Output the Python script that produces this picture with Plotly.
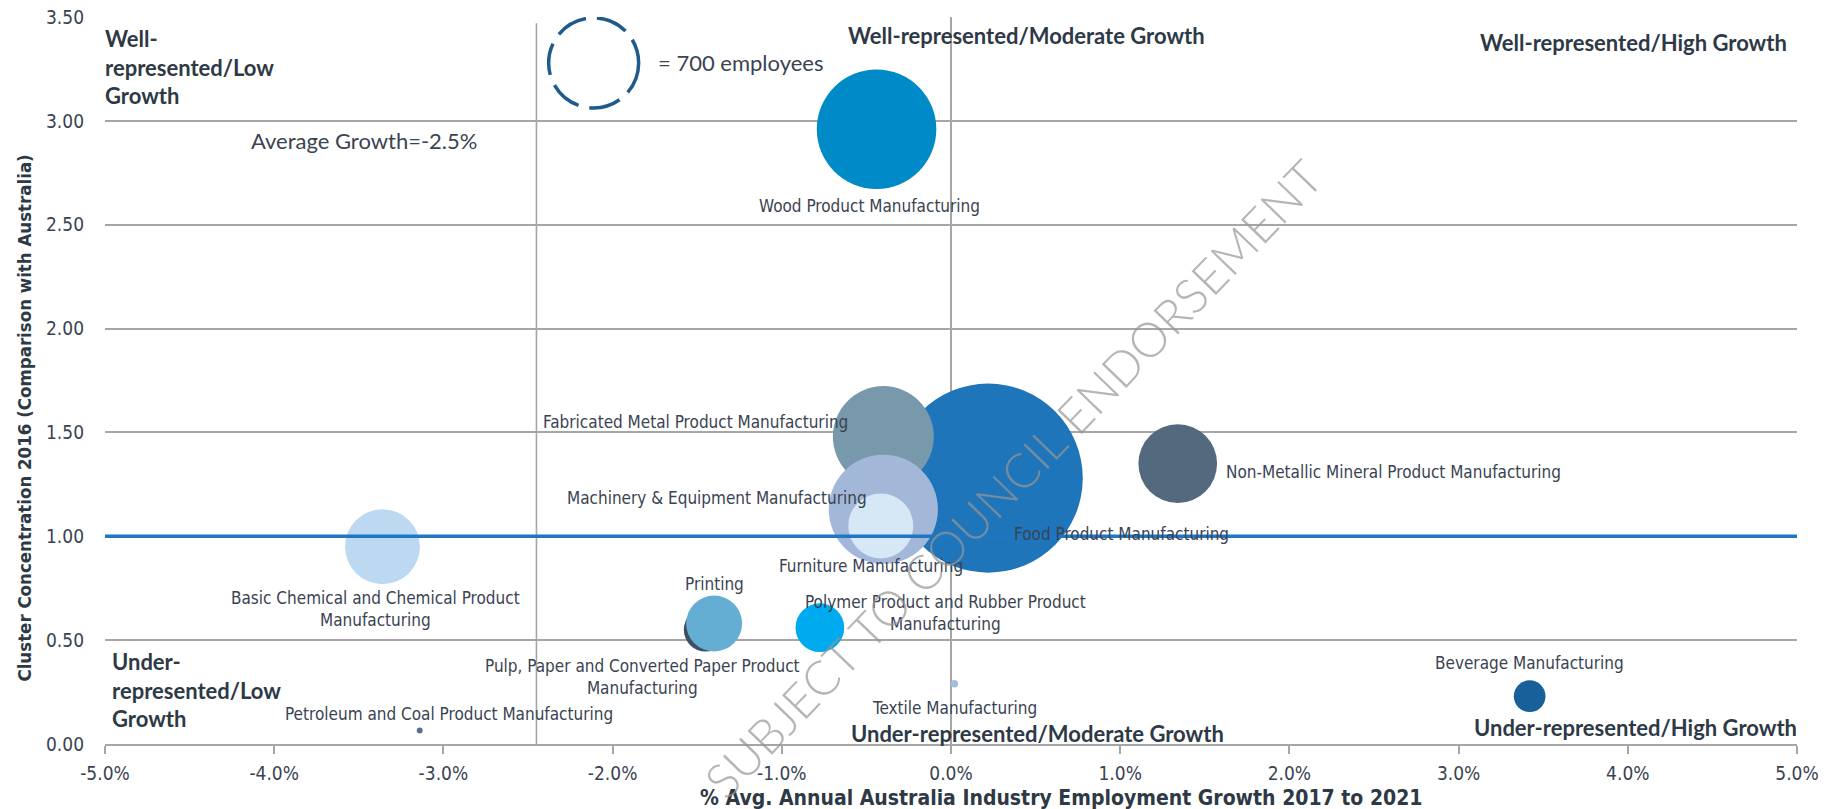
import plotly.graph_objects as go

# ---------------- data ----------------
industries = [
    "Food Product Manufacturing",
    "Wood Product Manufacturing",
    "Fabricated Metal Product Manufacturing",
    "Machinery & Equipment Manufacturing",
    "Furniture Manufacturing",
    "Non-Metallic Mineral Product Manufacturing",
    "Basic Chemical and Chemical Product Manufacturing",
    "Pulp, Paper and Converted Paper Product Manufacturing",
    "Printing",
    "Polymer Product and Rubber Product Manufacturing",
    "Beverage Manufacturing",
    "Textile Manufacturing",
    "Petroleum and Coal Product Manufacturing",
]
growth_pct = [0.22, -0.44, -0.40, -0.40, -0.415, 1.34, -3.36, -1.45, -1.40, -0.775, 3.42, 0.02, -3.14]
concentration = [1.28, 2.96, 1.48, 1.13, 1.05, 1.35, 0.95, 0.55, 0.58, 0.56, 0.23, 0.29, 0.065]
employees = [3090, 1235, 880, 1030, 365, 535, 485, 165, 270, 205, 87, 5, 3]

x_ticks = [-5, -4, -3, -2, -1, 0, 1, 2, 3, 4, 5]
y_ticks = [0, 0.5, 1.0, 1.5, 2.0, 2.5, 3.0, 3.5]
average_growth = -2.45
average_growth_label = "Average Growth=-2.5%"
concentration_threshold = 1.0
legend_employees = 700

# ---------------- styles ----------------
colors = ["#1F75BA", "#008AC8", "#7898AC", "#A3B8D9", "#D6E7F5", "#53697E", "#BDD9F2",
          "#3D4F63", "#65AED3", "#00AAEF", "#176099", "#A3BEDA", "#56718C"]
# label placement: (dx px, dy px (down), xanchor, wrap)
label_style = {
    "Food Product Manufacturing": (24, 56, "left", False),
    "Wood Product Manufacturing": (-7, 77, "center", False),
    "Fabricated Metal Product Manufacturing": (-33, -15, "right", False),
    "Machinery & Equipment Manufacturing": (-14, -11, "right", False),
    "Furniture Manufacturing": (-10, 40, "center", False),
    "Non-Metallic Mineral Product Manufacturing": (46, 8, "left", False),
    "Basic Chemical and Chemical Product Manufacturing": (-7, 62, "center", True),
    "Pulp, Paper and Converted Paper Product Manufacturing": (-63, 47, "center", True),
    "Printing": (0, -40, "center", False),
    "Polymer Product and Rubber Product Manufacturing": (126, -15, "center", True),
    "Beverage Manufacturing": (0, -33, "center", False),
    "Textile Manufacturing": (0, 24, "center", False),
    "Petroleum and Coal Product Manufacturing": (-137, -17, "left", False),
}
LEGEND_DIAM = 90.0
# plotly area mode: diameter = 2*sqrt(v / (2*sizeref))
sizeref = 2.0 * legend_employees / LEGEND_DIAM ** 2

COND = "DejaVu Sans Condensed, DejaVu Sans, sans-serif"
CAL = "Lato, Carlito, sans-serif"
TXT = "#3A4352"
QTXT = "#2E3946"
GRID = "#A6A6A6"

fig = go.Figure()

fig.add_trace(go.Scatter(
    x=growth_pct, y=concentration, mode="markers",
    text=industries,
    marker=dict(size=employees, sizemode="area", sizeref=sizeref, sizemin=2,
                color=colors, opacity=1, line=dict(width=0)),
    hovertemplate="%{text}<br>%{x:.2f}%<br>%{y:.2f}<extra></extra>",
    showlegend=False,
))

fig.add_trace(go.Scatter(
    x=[x_ticks[0], x_ticks[-1]], y=[concentration_threshold, concentration_threshold],
    mode="lines", line=dict(color="#1F77C4", width=3.5), hoverinfo="skip", showlegend=False,
))

annotations = []
for name, gx, cy in zip(industries, growth_pct, concentration):
    dx, dy, anc, wrap = label_style[name]
    txt = name.replace(" Manufacturing", "<br>Manufacturing") if wrap else name
    annotations.append(dict(
        x=gx, y=cy, xref="x", yref="y", text=txt, showarrow=False,
        xshift=dx, yshift=-dy, xanchor=anc, yanchor="middle", align="center",
        font=dict(family=COND, size=17, color=TXT),
    ))

def qlabel(text, x, y, anchor, xref="x", xshift=0):
    annotations.append(dict(x=x, y=y, xref=xref, yref="y", text=text, showarrow=False,
                            xanchor=anchor, yanchor="middle", align="left", xshift=xshift,
                            font=dict(family=CAL, size=22, color=QTXT, weight="bold")))

qlabel("Well-<br>represented/Low<br>Growth", -5.0, 3.259, "left", xshift=-2)
qlabel("Well-represented/Moderate Growth", 0.449, 3.413, "center")
qlabel("Well-represented/High Growth", 4.953, 3.379, "right")
qlabel("Under-<br>represented/Low<br>Growth", -4.97, 0.258, "left")
qlabel("Under-represented/Moderate Growth", 0.514, 0.051, "center")
qlabel("Under-represented/High Growth", 1.0, 0.080, "right", xref="paper", xshift=2)

annotations.append(dict(x=-1.746, y=3.281, xref="x", yref="y",
                        text="= %d employees" % legend_employees, showarrow=False,
                        xanchor="left", yanchor="middle",
                        font=dict(family=CAL, size=22, color=TXT)))
annotations.append(dict(x=-3.472, y=2.907, xref="x", yref="y", text=average_growth_label,
                        showarrow=False, xanchor="center", yanchor="middle",
                        font=dict(family=CAL, size=22, color=TXT)))

# axis titles
annotations.append(dict(x=-0.0473, y=0.449, xref="paper", yref="paper",
                        text="Cluster Concentration 2016 (Comparison with Australia)",
                        textangle=-90, showarrow=False, xanchor="center", yanchor="middle",
                        font=dict(family=COND, size=18.5, color=QTXT, weight="bold")))
annotations.append(dict(x=0.565, y=-0.0742, xref="paper", yref="paper",
                        text="% Avg. Annual Australia Industry Employment Growth 2017 to 2021",
                        showarrow=False, xanchor="center", yanchor="middle",
                        font=dict(family=COND, size=21, color=QTXT, weight="bold")))

# watermark
annotations.append(dict(x=0.365, y=1.28, xref="x", yref="y",
                        text="SUBJECT TO COUNCIL ENDORSEMENT", textangle=-46, showarrow=False,
                        xanchor="center", yanchor="middle",
                        font=dict(family="Lato, sans-serif", size=48, weight=300,
                                  color="rgba(150,150,150,0.7)")))

shapes = [
    dict(type="line", xref="x", yref="y", x0=average_growth, x1=average_growth,
         y0=0, y1=3.47, line=dict(color=GRID, width=1.6), layer="below"),
    dict(type="circle", xref="x", yref="y", xsizemode="pixel", ysizemode="pixel",
         xanchor=-2.112, yanchor=3.279,
         x0=-LEGEND_DIAM / 2, x1=LEGEND_DIAM / 2, y0=-LEGEND_DIAM / 2, y1=LEGEND_DIAM / 2,
         line=dict(color="#1F5A8C", width=3.5, dash="32px,11px"), layer="above"),
]

fig.update_layout(
    width=1834, height=809,
    margin=dict(l=105, r=37, t=17, b=65, autoexpand=False),
    paper_bgcolor="white", plot_bgcolor="white",
    showlegend=False,
    annotations=annotations, shapes=shapes,
    xaxis=dict(range=[x_ticks[0], x_ticks[-1]], tickvals=x_ticks,
               ticktext=["%.1f%%" % v for v in x_ticks], automargin=False,
               showgrid=False, zeroline=True, zerolinecolor=GRID, zerolinewidth=1.6,
               showline=True, linecolor=GRID, linewidth=2,
               ticks="outside", ticklen=8, tickcolor=GRID, tickwidth=1.6,
               tickfont=dict(family=COND, size=19, color=TXT), ticklabelstandoff=3),
    yaxis=dict(range=[y_ticks[0], y_ticks[-1]], tickvals=y_ticks,
               ticktext=["%.2f" % v for v in y_ticks], automargin=False,
               showgrid=True, gridcolor=GRID, gridwidth=1.8, zeroline=False,
               showline=False, ticks="", ticklabelstandoff=20,
               tickfont=dict(family=COND, size=19, color=TXT)),
)

fig.write_html("out.html", config={"displayModeBar": False},
               post_script="document.body.style.margin='0';document.body.style.overflow='hidden';")
